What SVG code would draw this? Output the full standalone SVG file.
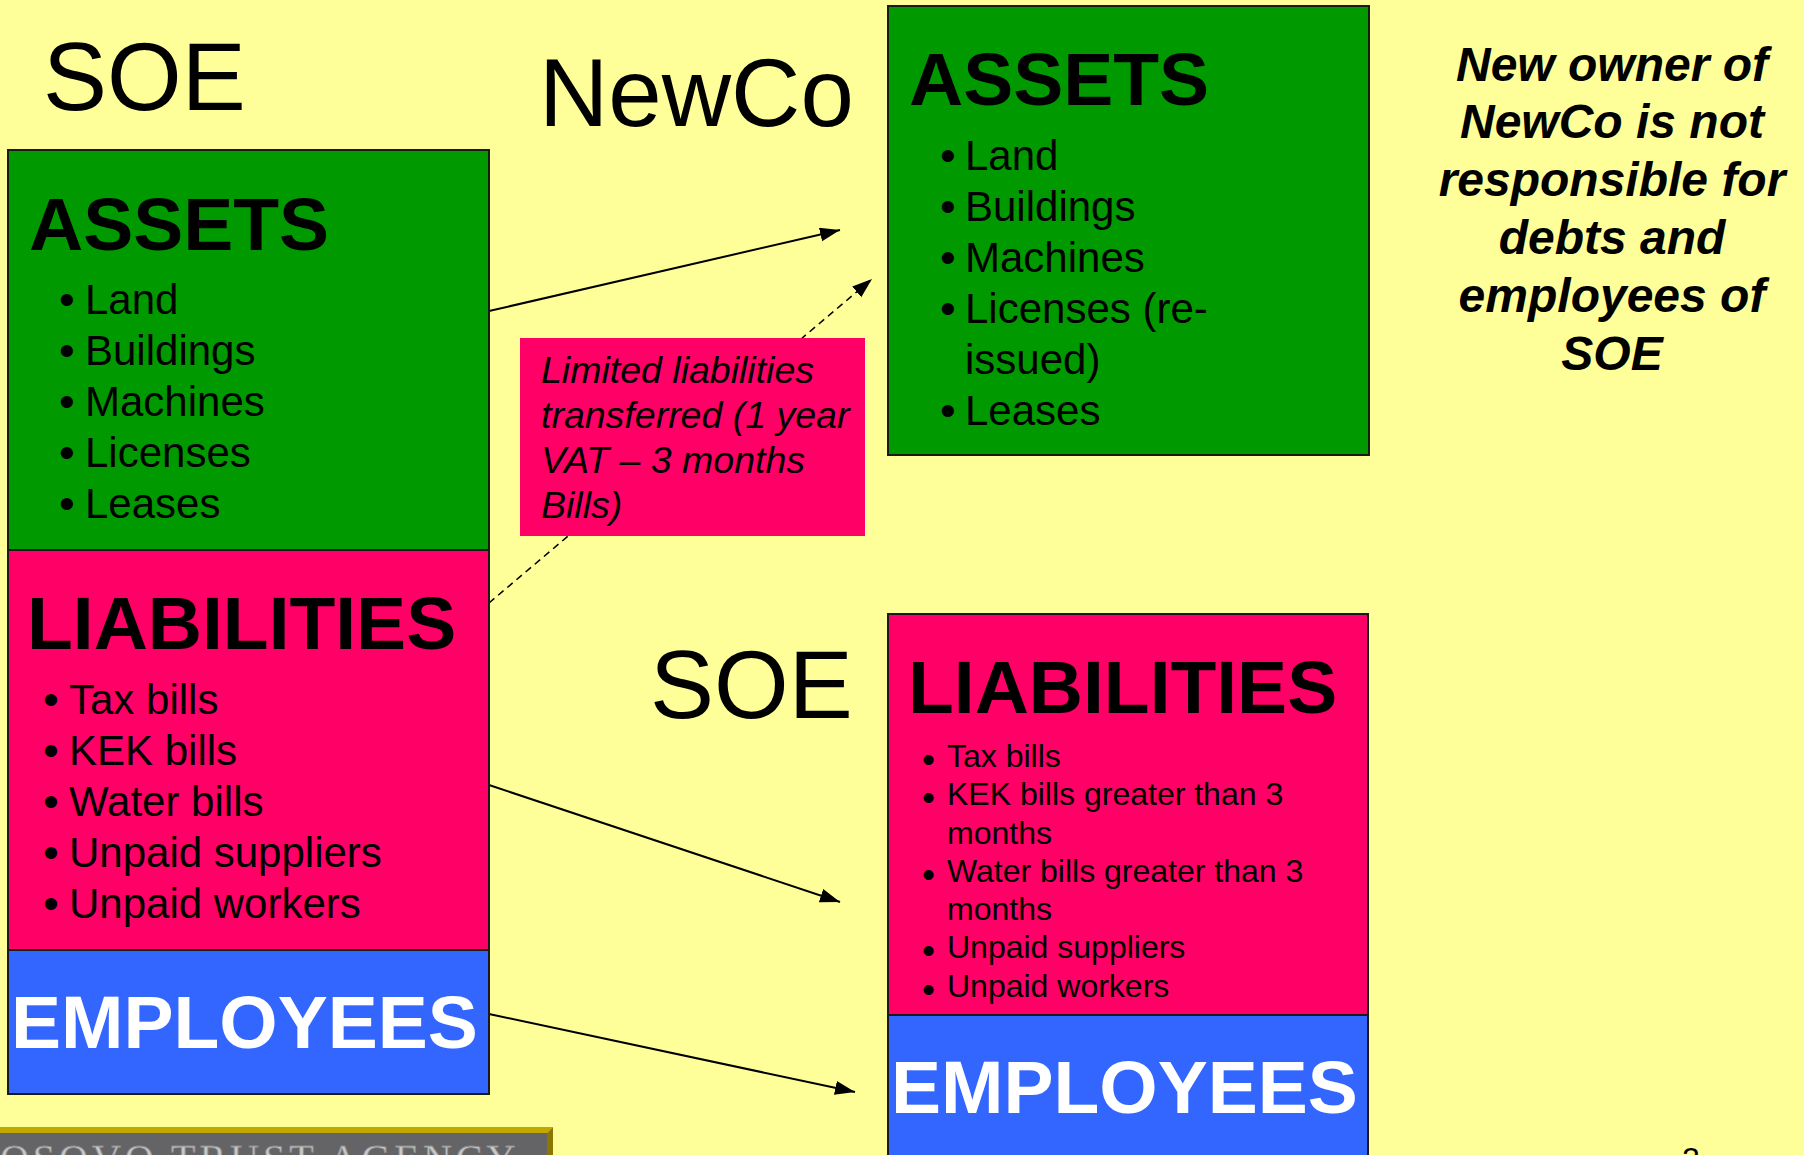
<svg xmlns="http://www.w3.org/2000/svg" width="1804" height="1155" viewBox="0 0 1804 1155">
<defs>
<style>
text { font-family: "Liberation Sans", Arial, sans-serif; fill: #000; }
.title { font-size: 96px; }
.h { font-size: 75px; font-weight: bold; }
.hw { font-size: 75px; font-weight: bold; fill: #fff; }
.item { font-size: 42px; }
.bul { font-size: 45px; }
.sm { font-size: 32px; }
.sbul { font-size: 37px; }
.call { font-size: 37.5px; font-style: italic; }
.note { font-size: 48px; font-style: italic; font-weight: bold; text-anchor: middle; }
.box { stroke: #1a1a1a; stroke-width: 2; }
.green { fill: #009900; }
.pink { fill: #FF0066; }
.blue { fill: #3366FF; }
.arrow { stroke: #000; stroke-width: 2; fill: none; marker-end: url(#ah); }
.dash { stroke: #000; stroke-width: 1.6; fill: none; stroke-dasharray: 7 5; marker-end: url(#ah); }
</style>
<marker id="ah" markerUnits="userSpaceOnUse" markerWidth="22" markerHeight="16" refX="20" refY="7" orient="auto">
<path d="M0,0 L20,7 L0,14 z" fill="#000"/>
</marker>
</defs>
<rect x="0" y="0" width="1804" height="1155" fill="#FFFF99"/>

<g id="connectors">
<line class="arrow" x1="489" y1="311" x2="840" y2="230"/>
<line class="dash" x1="489" y1="603" x2="872" y2="279"/>
<line class="arrow" x1="489" y1="785" x2="840" y2="902"/>
<line class="arrow" x1="489" y1="1014" x2="855" y2="1092"/>
</g>

<g id="label-soe-top"><text class="title" x="43" y="110">SOE</text></g>
<g id="label-newco"><text class="title" x="539" y="126">NewCo</text></g>
<g id="label-soe-mid"><text class="title" x="650" y="718">SOE</text></g>

<g id="soe-assets">
<rect class="box green" x="8" y="150" width="481" height="400"/>
<text class="h" x="29" y="250">ASSETS</text>
<text class="item" x="59" y="315"><tspan class="bul">•</tspan><tspan x="85" dy="-1">Land</tspan></text>
<text class="item" x="59" y="366"><tspan class="bul">•</tspan><tspan x="85" dy="-1">Buildings</tspan></text>
<text class="item" x="59" y="417"><tspan class="bul">•</tspan><tspan x="85" dy="-1">Machines</tspan></text>
<text class="item" x="59" y="468"><tspan class="bul">•</tspan><tspan x="85" dy="-1">Licenses</tspan></text>
<text class="item" x="59" y="519"><tspan class="bul">•</tspan><tspan x="85" dy="-1">Leases</tspan></text>
</g>

<g id="soe-liabilities">
<rect class="box pink" x="8" y="550" width="481" height="400"/>
<text class="h" x="27" y="649">LIABILITIES</text>
<text class="item" x="43" y="715"><tspan class="bul">•</tspan><tspan x="69" dy="-1">Tax bills</tspan></text>
<text class="item" x="43" y="766"><tspan class="bul">•</tspan><tspan x="69" dy="-1">KEK bills</tspan></text>
<text class="item" x="43" y="817"><tspan class="bul">•</tspan><tspan x="69" dy="-1">Water bills</tspan></text>
<text class="item" x="43" y="868"><tspan class="bul">•</tspan><tspan x="69" dy="-1">Unpaid suppliers</tspan></text>
<text class="item" x="43" y="919"><tspan class="bul">•</tspan><tspan x="69" dy="-1">Unpaid workers</tspan></text>
</g>

<g id="soe-employees">
<rect class="box blue" x="8" y="950" width="481" height="144"/>
<text class="hw" x="11" y="1048">EMPLOYEES</text>
</g>

<g id="callout">
<rect x="520" y="338" width="345" height="198" fill="#FF0066"/>
<text class="call" x="541" y="383">Limited liabilities</text>
<text class="call" x="541" y="428">transferred (1 year</text>
<text class="call" x="541" y="473">VAT – 3 months</text>
<text class="call" x="541" y="518">Bills)</text>
</g>

<g id="newco-assets">
<rect class="box green" x="888" y="6" width="481" height="449"/>
<text class="h" x="909" y="105">ASSETS</text>
<text class="item" x="940" y="171"><tspan class="bul">•</tspan><tspan x="965" dy="-1">Land</tspan></text>
<text class="item" x="940" y="222"><tspan class="bul">•</tspan><tspan x="965" dy="-1">Buildings</tspan></text>
<text class="item" x="940" y="273"><tspan class="bul">•</tspan><tspan x="965" dy="-1">Machines</tspan></text>
<text class="item" x="940" y="324"><tspan class="bul">•</tspan><tspan x="965" dy="-1">Licenses (re-</tspan></text>
<text class="item" x="965" y="374">issued)</text>
<text class="item" x="940" y="426"><tspan class="bul">•</tspan><tspan x="965" dy="-1">Leases</tspan></text>
</g>

<g id="soe-remaining-liabilities">
<rect class="box pink" x="888" y="614" width="480" height="401"/>
<text class="h" x="908" y="713">LIABILITIES</text>
<text class="sm" x="922" y="772"><tspan class="sbul">•</tspan><tspan x="947" dy="-5">Tax bills</tspan></text>
<text class="sm" x="922" y="810"><tspan class="sbul">•</tspan><tspan x="947" dy="-5">KEK bills greater than 3</tspan></text>
<text class="sm" x="947" y="843.5">months</text>
<text class="sm" x="922" y="886.5"><tspan class="sbul">•</tspan><tspan x="947" dy="-5">Water bills greater than 3</tspan></text>
<text class="sm" x="947" y="920">months</text>
<text class="sm" x="922" y="963"><tspan class="sbul">•</tspan><tspan x="947" dy="-5">Unpaid suppliers</tspan></text>
<text class="sm" x="922" y="1001.5"><tspan class="sbul">•</tspan><tspan x="947" dy="-5">Unpaid workers</tspan></text>
</g>

<g id="soe-remaining-employees">
<rect class="box blue" x="888" y="1015" width="480" height="148"/>
<text class="hw" x="891" y="1113">EMPLOYEES</text>
</g>

<g id="note">
<text class="note" x="1612" y="80.5">New owner of</text>
<text class="note" x="1612" y="138.3">NewCo is not</text>
<text class="note" x="1612" y="196.1">responsible for</text>
<text class="note" x="1612" y="253.9">debts and</text>
<text class="note" x="1612" y="311.7">employees of</text>
<text class="note" x="1612" y="369.5">SOE</text>
</g>

<g id="footer">
<rect x="0" y="1133" width="547" height="22" fill="#646466"/>
<polygon points="0,1127 553,1127 547,1133 0,1133" fill="#C0A800"/>
<polygon points="547,1133 553,1127 553,1155 547,1155" fill="#8B7700"/>
<text x="-33" y="1171.5" style="font-family:'Liberation Serif','Times New Roman',serif;font-size:40px;letter-spacing:4px;fill:#c8c8c8;stroke:#8a8a8a;stroke-width:0.8">KOSOVO TRUST AGENCY</text>
</g>

<g id="page-number"><text x="1682" y="1170" style="font-size:32px">2</text></g>
</svg>
